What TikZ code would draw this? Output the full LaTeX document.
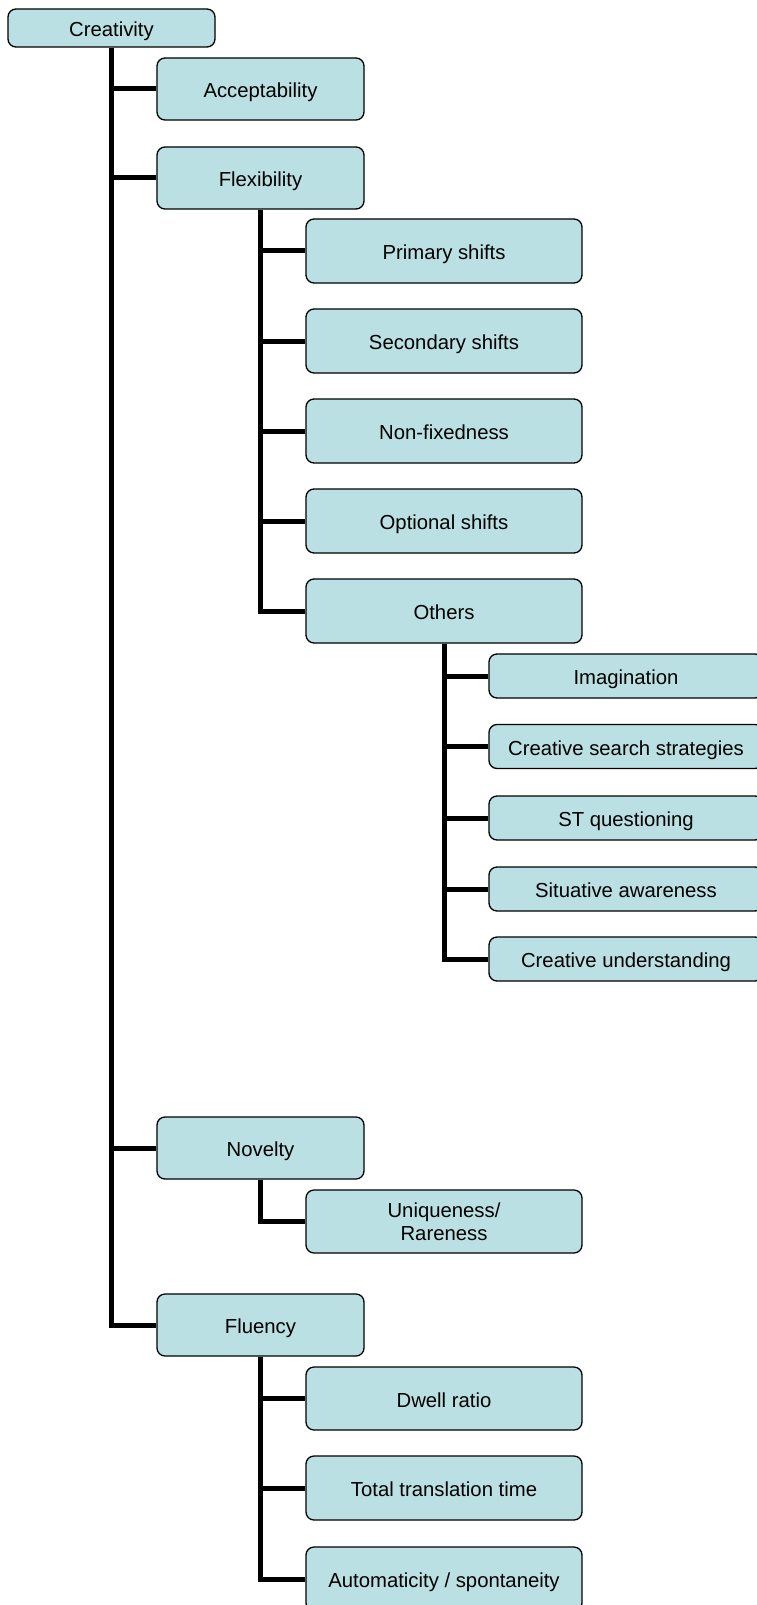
\documentclass[tikz,border=0pt]{standalone}
\usepackage{fontspec}
\setmainfont{Liberation Sans}
\definecolor{boxfill}{RGB}{187,224,227}
\begin{document}
\begin{tikzpicture}[x=1pt,y=-1pt,
  boxbase/.style={draw=black, fill=boxfill, line width=1.3pt, rounded corners=8pt,
    inner sep=0pt, align=center, font=\fontsize{20.3}{23}\selectfont,
    minimum width=#1},
  boxbase/.default=207,
  box/.style={boxbase=#1, text height=17pt, text depth=0pt},
  box/.default=207,
  conn/.style={line width=5pt, line join=miter}]
\useasboundingbox (0,0) rectangle (757,1605);
\clip (0,0) rectangle (757,1605);
% level 0
\node[box=207, minimum height=38] (cre) at (111.5,28) {Creativity};
% level 1
\node[box=207, minimum height=62] (acc) at (260.5,89) {Acceptability};
\node[box=207, minimum height=62] (flex) at (260.5,178) {Flexibility};
\node[box=207, minimum height=62] (nov) at (260.5,1148) {Novelty};
\node[box=207, minimum height=62] (flu) at (260.5,1325) {Fluency};
% flexibility children
\node[box=276, minimum height=64] (prim) at (444,251) {Primary shifts};
\node[box=276, minimum height=64] (sec) at (444,341) {Secondary shifts};
\node[box=276, minimum height=64] (nonf) at (444,431) {Non-fixedness};
\node[box=276, minimum height=64] (opt) at (444,521) {Optional shifts};
\node[box=276, minimum height=64] (oth) at (444,611) {Others};
% others children
\node[box=274, minimum height=44] (img) at (626,676) {Imagination};
\node[box=274, minimum height=44] (css) at (626,746.5) {Creative search strategies};
\node[box=274, minimum height=44] (stq) at (626,818) {ST questioning};
\node[box=274, minimum height=44] (sit) at (626,889) {Situative awareness};
\node[box=274, minimum height=44] (cun) at (626,959) {Creative understanding};
% novelty children
\node[boxbase=276, minimum height=63] (uni) at (444,1221.5) {Uniqueness/\\Rareness};
% fluency children
\node[box=276, minimum height=63] (dwe) at (444,1398.5) {Dwell ratio};
\node[box=276, minimum height=64] (tot) at (444,1488) {Total translation time};
\node[box=276, minimum height=64] (aut) at (444,1579) {Automaticity / spontaneity};
% connectors
\foreach \c in {acc,flex,nov,flu} \draw[conn] (cre.south) |- (\c.west);
\foreach \c in {prim,sec,nonf,opt,oth} \draw[conn] (flex.south) |- (\c.west);
\foreach \c in {img,css,stq,sit,cun} \draw[conn] (oth.south) |- (\c.west);
\draw[conn] (nov.south) |- (uni.west);
\foreach \c in {dwe,tot,aut} \draw[conn] (flu.south) |- (\c.west);
\end{tikzpicture}
\end{document}
